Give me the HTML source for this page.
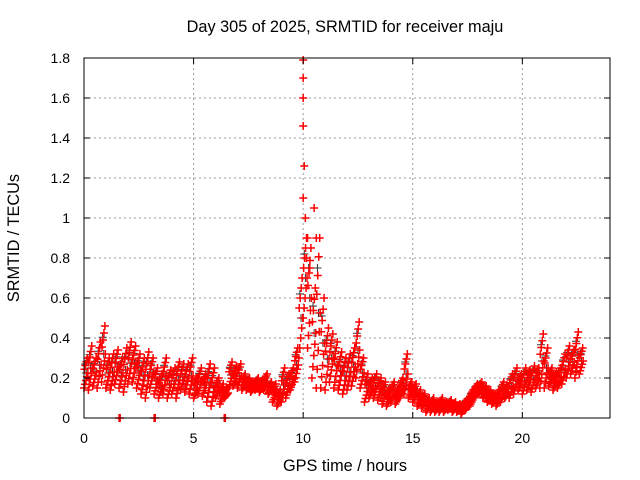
<!DOCTYPE html>
<html><head><meta charset="utf-8"><style>
body{margin:0;background:#fff}
svg{display:block;font-family:"Liberation Sans",sans-serif;font-size:14px}
.big{font-size:16.3px}
</style></head><body>
<svg id="c" width="640" height="480">
<text class="big" x="345" y="32" text-anchor="middle">Day 305 of 2025, SRMTID for receiver maju</text>
<text class="big" x="345" y="471" text-anchor="middle">GPS time / hours</text>
<text class="big" transform="translate(19,238) rotate(-90)" text-anchor="middle">SRMTID / TECUs</text>
<g id="grid"></g><g id="marks"></g>
<rect x="84" y="58" width="526" height="360" fill="none" stroke="#000"/>
<g id="ticks"></g>
</svg>
<script>
const lo=[0.15,0.14,0.16,0.15,0.18,0.15,0.14,0.17,0.15,0.13,0.17,0.18,0.15,0.12,0.1,0.15,0.12,0.1,0.12,0.1,0.12,0.1,0.14,0.13,0.12,0.1,0.12,0.11,0.08,0.06,0.1,0.07,0.1,0.15,0.16,0.15,0.14,0.14,0.13,0.14,0.13,0.14,0.12,0.08,0.06,0.08,0.1,0.14,0.18,0.3,0.5,0.35,0.2,0.15,0.15,0.14,0.18,0.15,0.14,0.12,0.14,0.16,0.2,0.15,0.08,0.1,0.1,0.09,0.07,0.06,0.08,0.07,0.1,0.12,0.1,0.08,0.06,0.05,0.03,0.03,0.03,0.03,0.03,0.04,0.03,0.03,0.02,0.04,0.06,0.1,0.12,0.1,0.08,0.07,0.06,0.08,0.1,0.1,0.12,0.14,0.12,0.14,0.13,0.15,0.15,0.15,0.16,0.14,0.15,0.17,0.2,0.22,0.2,0.22];
const hi=[0.3,0.36,0.3,0.38,0.46,0.3,0.32,0.34,0.3,0.35,0.38,0.36,0.32,0.3,0.33,0.3,0.25,0.22,0.3,0.24,0.25,0.28,0.27,0.27,0.3,0.2,0.25,0.22,0.27,0.25,0.2,0.17,0.15,0.28,0.26,0.27,0.22,0.2,0.18,0.2,0.19,0.22,0.18,0.17,0.14,0.25,0.22,0.25,0.35,0.7,1.8,0.85,0.65,0.9,0.6,0.45,0.42,0.38,0.33,0.3,0.32,0.35,0.48,0.3,0.22,0.2,0.22,0.2,0.18,0.15,0.18,0.15,0.2,0.32,0.18,0.17,0.14,0.12,0.1,0.1,0.08,0.1,0.08,0.09,0.08,0.07,0.08,0.1,0.14,0.17,0.18,0.16,0.14,0.12,0.14,0.18,0.16,0.22,0.25,0.22,0.25,0.24,0.26,0.25,0.42,0.35,0.25,0.23,0.25,0.32,0.36,0.34,0.43,0.35];
const spikeT=[10.0,10.0,10.0,10.0,10.05,10.0,10.1,10.2,10.15,10.5,10.6,10.3];
const spikeV=[1.79,1.7,1.6,1.46,1.26,1.1,1.0,0.9,0.8,1.05,0.9,0.75];
const zeroT=[1.6,3.2,6.4];
const xTicks=[0,5,10,15,20];
const yTicks=[0,0.2,0.4,0.6,0.8,1,1.2,1.4,1.6,1.8];
const NS="http://www.w3.org/2000/svg";
const X=t=>84+t*526/24, Y=v=>418-v*360/1.8;
const grid=document.getElementById('grid'),marks=document.getElementById('marks'),ticks=document.getElementById('ticks');
function mk(p,tag,a){const e=document.createElementNS(NS,tag);for(const k in a)e.setAttribute(k,a[k]);p.appendChild(e);return e;}
yTicks.forEach(v=>{
 if(v>0&&v<1.8){const g=mk(grid,'line',{x1:84,x2:610,y1:Y(v),y2:Y(v),stroke:'#999','stroke-dasharray':'2,3'});
 
 }
 mk(ticks,'line',{x1:84,x2:90,y1:Y(v),y2:Y(v),stroke:'#000'});
 mk(ticks,'line',{x1:604,x2:610,y1:Y(v),y2:Y(v),stroke:'#000'});
 const t=mk(ticks,'text',{x:70,y:Y(v)+5,'text-anchor':'end'});t.textContent=String(v);
 
 
});
xTicks.forEach(v=>{
 if(v>0){const g=mk(grid,'line',{x1:X(v),x2:X(v),y1:58,y2:418,stroke:'#999','stroke-dasharray':'2,3'});
 
 }
 mk(ticks,'line',{x1:X(v),x2:X(v),y1:418,y2:412,stroke:'#000'});
 mk(ticks,'line',{x1:X(v),x2:X(v),y1:58,y2:64,stroke:'#000'});
 const t=mk(ticks,'text',{x:X(v),y:443,'text-anchor':'middle'});t.textContent=String(v);
 
 
});
let d1='',d2='';
const plus=(t,v)=>{const x=X(t),y=Y(v);return `M${x-4},${y}h8M${x},${y-4}v8`;};
lo.forEach((l,i)=>{const t=i*0.2,h=hi[i];
 const top=i===50?0.9:h;
 for(let k=0;k<=8;k++){d1+=plus(t+k*0.022,l+(top-l)*((k*5)%9)/8);}
 d2+=plus(t+0.1,l+(top-l)*0.5);
 d2+=plus(t+0.05,l+(top-l)*0.8);
});
spikeT.forEach((t,i)=>{d1+=plus(t,spikeV[i]);});
zeroT.forEach(t=>{d1+=plus(t,0);d1+=plus(t+0.05,0);});
const g2=mk(marks,'path',{d:d2,stroke:'#333','stroke-width':1,fill:'none'});


const g1=mk(marks,'path',{d:d1,stroke:'#f00','stroke-width':1.5,fill:'none'});


</script>
</body></html>
